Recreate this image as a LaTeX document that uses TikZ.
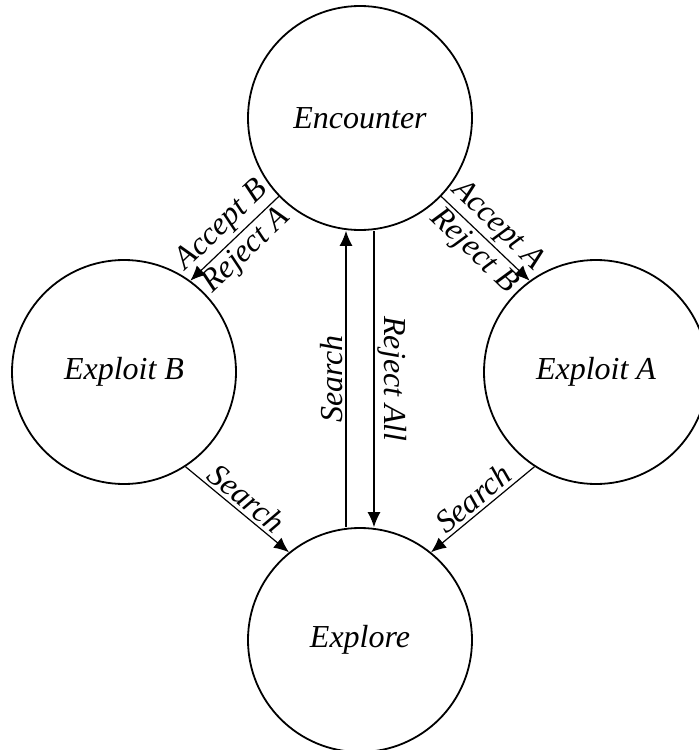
\documentclass[tikz,border=0pt]{standalone}
\usepackage{fontspec}
\setmainfont{Liberation Serif}
\usetikzlibrary{arrows.meta}
\begin{document}
\begin{tikzpicture}[x=1pt,y=-1pt,
    state/.style={circle,draw,line width=1.8pt,minimum size=224pt,inner sep=0pt,
        font=\fontsize{32}{36}\selectfont\itshape},
    trans/.style={-{Latex[length=15pt,width=13pt]},line width=1.2pt},
    lbl/.style={font=\fontsize{32}{36}\selectfont\itshape,sloped,inner sep=3pt,midway}]
    \useasboundingbox (0,0) rectangle (699,750);
    % states
    \node[state] (enc) at (360,118) {Encounter};
    \node[state] (exb) at (124,372) {Exploit B};
    \node[state] (exa) at (596,372) {Exploit A};
    \node[state] (exp) at (360,640) {Explore};
    % transitions
    \draw[trans] (enc.224) -- (exb.54)
        node[lbl,above] {Accept B} node[lbl,below] {Reject A};
    \draw[trans] (enc.-44) -- (exa.126)
        node[lbl,above] {Accept A} node[lbl,below] {Reject B};
    \draw[trans] ([xshift=-14pt]exp.north) -- ([xshift=-14pt]enc.south)
        node[lbl,above] {Search};
    \draw[trans] ([xshift=14pt]enc.south) -- ([xshift=14pt]exp.north)
        node[lbl,above] {Reject All};
    \draw[trans] (exb.-57) -- (exp.129) node[lbl,above] {Search};
    \draw[trans] (exa.237) -- (exp.51) node[lbl,above] {Search};
\end{tikzpicture}
\end{document}
